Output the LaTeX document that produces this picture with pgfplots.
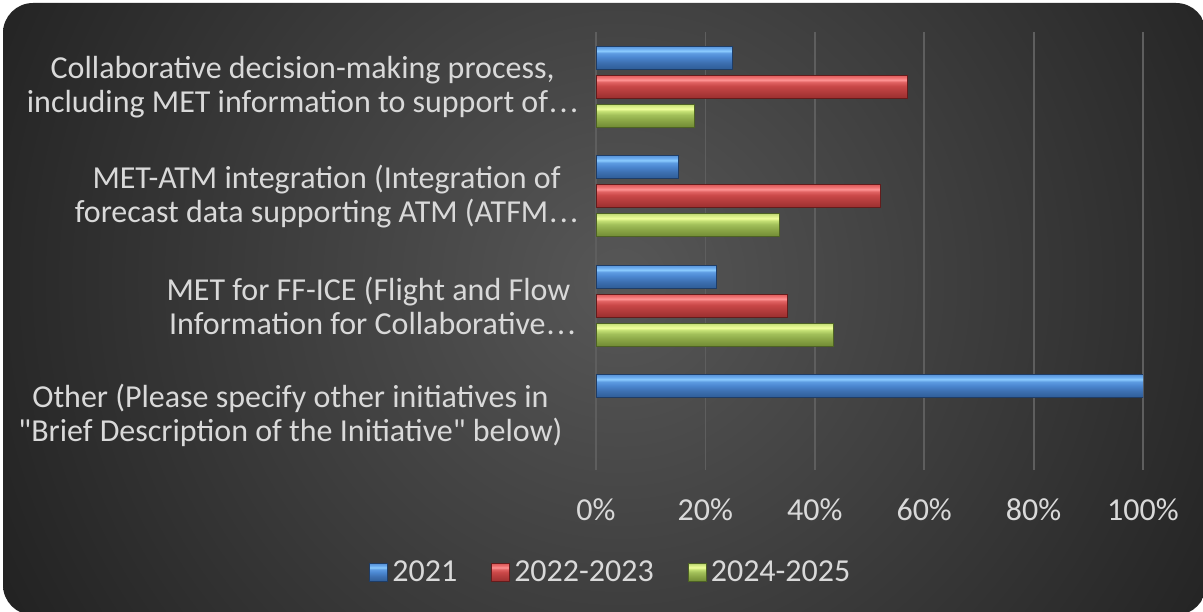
\documentclass[border=0pt]{standalone}
\usepackage{pgfplots}
\pgfplotsset{compat=1.18}
\usepackage{fontspec}
\setmainfont{Carlito}[Ligatures=TeXOff]
\newcommand{\dotsx}{\kern0.5pt.\kern1.2pt.\kern1.2pt.}
\definecolor{txt}{HTML}{D9D9D9}
\definecolor{bgin}{HTML}{575757}
\definecolor{bgout}{HTML}{222222}
\definecolor{gridc}{HTML}{5E5E5E}
\definecolor{axisc}{HTML}{A6A6A6}
\definecolor{bEdge}{HTML}{1F3D66}
\definecolor{rEdge}{HTML}{641C1C}
\definecolor{gEdge}{HTML}{4D6224}
\pgfdeclareverticalshading{blueshade}{100bp}{
  color(0bp)=(rgb,255:red,46;green,92;blue,150);
  color(25bp)=(rgb,255:red,46;green,92;blue,150);
  color(40bp)=(rgb,255:red,61;green,112;blue,178);
  color(52bp)=(rgb,255:red,76;green,136;blue,210);
  color(60bp)=(rgb,255:red,94;green,156;blue,226);
  color(65bp)=(rgb,255:red,140;green,204;blue,255);
  color(70bp)=(rgb,255:red,106;green,170;blue,238);
  color(75bp)=(rgb,255:red,90;green,150;blue,218);
  color(100bp)=(rgb,255:red,90;green,150;blue,218)}
\pgfdeclareverticalshading{redshade}{100bp}{
  color(0bp)=(rgb,255:red,154;green,46;blue,46);
  color(25bp)=(rgb,255:red,154;green,46;blue,46);
  color(40bp)=(rgb,255:red,180;green,60;blue,60);
  color(52bp)=(rgb,255:red,202;green,72;blue,72);
  color(60bp)=(rgb,255:red,224;green,98;blue,98);
  color(65bp)=(rgb,255:red,255;green,148;blue,148);
  color(70bp)=(rgb,255:red,240;green,112;blue,112);
  color(75bp)=(rgb,255:red,221;green,92;blue,92);
  color(100bp)=(rgb,255:red,221;green,92;blue,92)}
\pgfdeclareverticalshading{greenshade}{100bp}{
  color(0bp)=(rgb,255:red,112;green,138;blue,52);
  color(25bp)=(rgb,255:red,112;green,138;blue,52);
  color(40bp)=(rgb,255:red,138;green,166;blue,70);
  color(52bp)=(rgb,255:red,162;green,192;blue,90);
  color(60bp)=(rgb,255:red,196;green,224;blue,116);
  color(65bp)=(rgb,255:red,240;green,255;blue,156);
  color(70bp)=(rgb,255:red,218;green,240;blue,136);
  color(75bp)=(rgb,255:red,194;green,218;blue,116);
  color(100bp)=(rgb,255:red,194;green,218;blue,116)}
\pgfplotsset{
  bluebar/.style={draw=bEdge, line width=0.5pt, shading=blueshade},
  redbar/.style={draw=rEdge, line width=0.5pt, shading=redshade},
  greenbar/.style={draw=gEdge, line width=0.5pt, shading=greenshade},
}
\begin{document}
\begin{tikzpicture}[x=0.5pt,y=0.5pt]
\useasboundingbox (0,0) rectangle (1203,611);
\fill[white] (0,0) rectangle (1203,611);
\begin{scope}
\clip[rounded corners=15pt] (3,-4) rectangle (1206,608);
\shade[inner color=bgin, outer color=bgout] (620,330) circle (700);
\end{scope}
\begin{axis}[
  at={(298pt,70.5pt)}, anchor=south west,
  scale only axis, width=273.5pt, height=219pt,
  xbar, bar width=11.5pt,
  xmin=0, xmax=100, ymin=-0.5, ymax=3.5,
  xtick={0,20,40,60,80,100},
  xticklabel={\pgfmathprintnumber{\tick}\%},
  /pgf/number format/assume math mode=true,
  xmajorgrids, major grid style={gridc, line width=0.9pt},
  extra x ticks={0}, extra x tick labels={},
  extra x tick style={grid style={axisc, line width=1.3pt}},
  axis line style={draw=none},
  tick style={draw=none},
  ytick={0,1,2,3},
  yticklabels={{Other (Please specify other initiatives in\hspace*{8pt}\\"Brief Description of the Initiative" below)\hspace*{8pt}},
               {MET for FF-ICE (Flight and Flow\hspace*{4pt}\\Information for Collaborative\dotsx},
               {MET-ATM integration (Integration of\\forecast data supporting ATM (ATFM\dotsx},
               {Collaborative decision-making process,\\including MET information to support of\dotsx}},
  yticklabel style={align=center, anchor=east, text=txt, font=\fontsize{16pt}{17pt}\selectfont, xshift=-1pt},
  xticklabel style={text=txt, font=\fontsize{16pt}{18pt}\selectfont, yshift=-11pt},
  legend style={at={(0.029,-0.235)}, anchor=center, draw=none, fill=none, text=txt,
    font=\fontsize{16pt}{18pt}\selectfont, legend columns=-1,
    /tikz/every even column/.append style={column sep=15pt}},
  legend image code/.code={\draw[#1] (0pt,-4.5pt) rectangle (9pt,4.5pt);},
]
% legend-bearing bars (category: Collaborative)
\addplot[bluebar, bar shift=14.5pt] coordinates {(25,3)};
\addplot[redbar, bar shift=0pt] coordinates {(57,3)};
\addplot[greenbar, bar shift=-14.5pt] coordinates {(18,3)};
% MET-ATM integration
\addplot[bluebar, bar shift=14.5pt, forget plot] coordinates {(15,2)};
\addplot[redbar, bar shift=0pt, forget plot] coordinates {(52,2)};
\addplot[greenbar, bar shift=-14.5pt, forget plot] coordinates {(33.5,2)};
% MET for FF-ICE
\addplot[bluebar, bar shift=14.5pt, forget plot] coordinates {(22,1)};
\addplot[redbar, bar shift=0pt, forget plot] coordinates {(35,1)};
\addplot[greenbar, bar shift=-14.5pt, forget plot] coordinates {(43.5,1)};
% Other
\addplot[bluebar, bar shift=14.5pt, forget plot] coordinates {(100,0)};
\legend{2021,2022-2023,2024-2025}
\end{axis}
\end{tikzpicture}
\end{document}
